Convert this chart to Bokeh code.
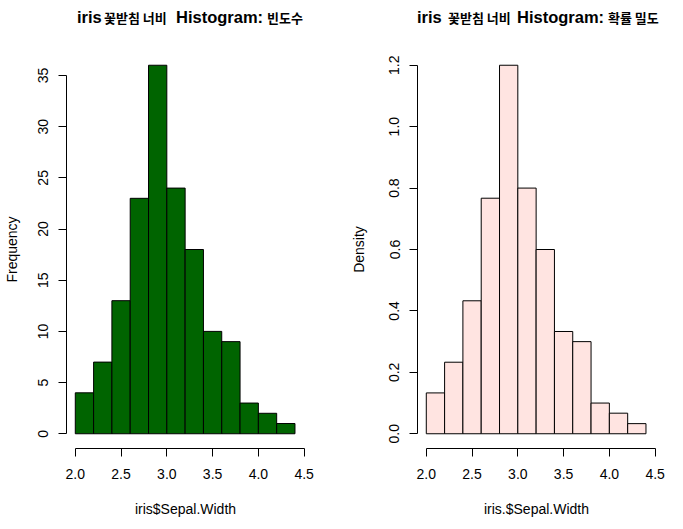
from bokeh.plotting import figure
from bokeh.layouts import row, column
from bokeh.models import FixedTicker, PrintfTickFormatter, ColumnDataSource, Div
from bokeh.embed import file_html
from bokeh.resources import INLINE

# ---- data (iris Sepal.Width histogram) ----
bin_left = [2.0, 2.2, 2.4, 2.6, 2.8, 3.0, 3.2, 3.4, 3.6, 3.8, 4.0, 4.2]
bin_right = [2.2, 2.4, 2.6, 2.8, 3.0, 3.2, 3.4, 3.6, 3.8, 4.0, 4.2, 4.4]
frequency = [4, 7, 13, 23, 36, 24, 18, 10, 9, 3, 2, 1]
density = [0.133, 0.233, 0.433, 0.767, 1.2, 0.8, 0.6, 0.333, 0.3, 0.1, 0.067, 0.033]
x_ticks = [2.0, 2.5, 3.0, 3.5, 4.0, 4.5]
freq_ticks = [0, 5, 10, 15, 20, 25, 30, 35]
dens_ticks = [0.0, 0.2, 0.4, 0.6, 0.8, 1.0, 1.2]

LAT = "Liberation Sans"
KR = "Noto Sans CJK KR"
TITLE_H = 50


def make_title(width, parts):
    # parts: (text, left_px, font, size_px); pieces share one baseline
    spans = []
    for i, (txt, x, font, size) in enumerate(parts):
        nxt = parts[i + 1][1] if i + 1 < len(parts) else width
        spans.append((txt, x, nxt - x, font, size))
    html = ('<div style="position:relative;width:%dpx;height:%dpx;">'
            '<div style="position:absolute;left:0;top:8px;display:flex;'
            'align-items:baseline;white-space:nowrap;color:black;line-height:normal;">'
            % (width, TITLE_H))
    html += '<span style="flex:0 0 %dpx;"></span>' % spans[0][1]
    for (txt, x, w, font, size) in spans:
        html += ('<span style="flex:0 0 %dpx;font-family:\'%s\';font-size:%s;'
                 'font-weight:bold;">%s</span>' % (w, font, size, txt))
    html += '</div></div>'
    return Div(text=html, width=width, height=TITLE_H, margin=(0, 0, 0, 0))


def make_panel(width, border_left, border_right, yvals, yrange, yticks, yfmt,
               fill, xlabel, ylabel, ylabel_standoff):
    p = figure(width=width, height=521 - TITLE_H, x_range=(1.904, 4.504), y_range=yrange,
               output_backend="svg", toolbar_location=None,
               min_border_left=border_left, min_border_right=border_right,
               min_border_top=0, min_border_bottom=73)
    p.outline_line_color = None
    p.grid.visible = False
    p.background_fill_color = "white"
    p.border_fill_color = "white"
    src = ColumnDataSource(dict(left=bin_left, right=bin_right, top=yvals,
                                bottom=[0] * len(yvals)))
    p.quad(left="left", right="right", top="top", bottom="bottom", source=src,
           fill_color=fill, line_color="black", line_width=1)

    for ax in (p.xaxis[0], p.yaxis[0]):
        ax.axis_line_color = "black"
        ax.major_tick_line_color = "black"
        ax.major_tick_out = 8
        ax.major_tick_in = 0
        ax.minor_tick_line_color = None
        ax.major_label_text_font = LAT
        ax.major_label_text_font_size = "14px"
        ax.major_label_text_color = "black"
        ax.axis_label_text_font = LAT
        ax.axis_label_text_font_size = "14px"
        ax.axis_label_text_font_style = "normal"
        ax.axis_label_text_color = "black"

    p.xaxis.ticker = FixedTicker(ticks=x_ticks)
    p.xaxis.bounds = (2.0, 4.5)
    p.xaxis.formatter = PrintfTickFormatter(format="%.1f")
    p.xaxis.axis_label = xlabel
    p.xaxis.major_label_standoff = 12
    p.xaxis.axis_label_standoff = 19

    p.yaxis.ticker = FixedTicker(ticks=yticks)
    p.yaxis.bounds = (yticks[0], yticks[-1])
    p.yaxis.formatter = PrintfTickFormatter(format=yfmt)
    p.yaxis.major_label_orientation = "vertical"
    p.yaxis.major_label_standoff = 10
    p.yaxis.axis_label = ylabel
    p.yaxis.axis_label_standoff = ylabel_standoff
    return p


t1 = make_title(347, [("iris", 77, LAT, "16.5px"), ("꽃받침 너비", 104, KR, "13px"),
                      ("Histogram:", 176, LAT, "16.5px"), ("빈도수", 267, KR, "13px")])
p1 = make_panel(347, 66, 43, frequency, (-1.44, 37.44), freq_ticks, "%d",
                "#006400", "iris$Sepal.Width", "Frequency", 16)

t2 = make_title(333, [("iris", 70, LAT, "16.5px"), ("꽃받침 너비", 101, KR, "13px"),
                      ("Histogram:", 170, LAT, "16.5px"), ("확률 밀도", 261, KR, "13px")])
p2 = make_panel(333, 70, 25, density, (-0.048, 1.248), dens_ticks, "%.1f",
                "#FFE4E1", "iris.$Sepal.Width", "Density", 20)

layout = row(column(t1, p1), column(t2, p2))
open("out.html", "w").write(file_html(layout, INLINE))
